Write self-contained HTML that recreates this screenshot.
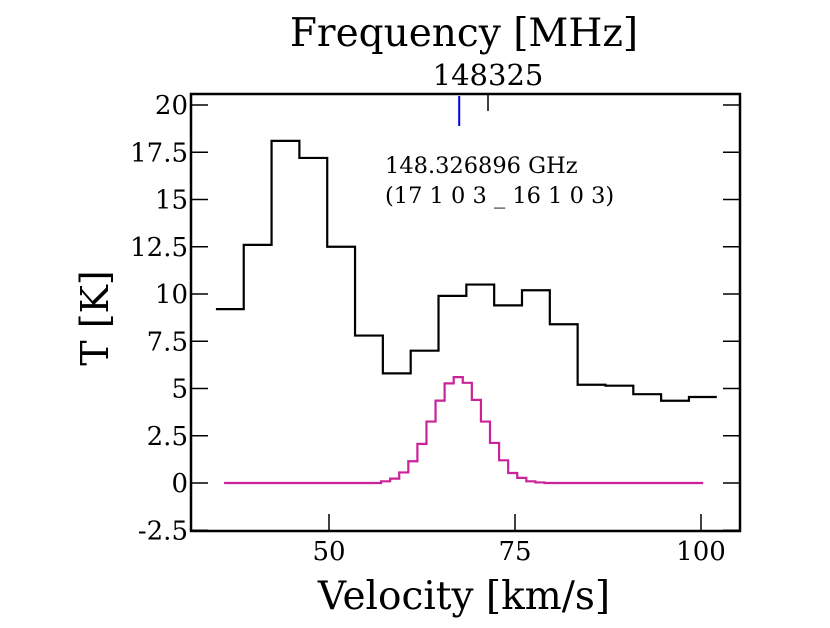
<!DOCTYPE html>
<html><head><meta charset="utf-8"><style>
body{margin:0;background:#fff}
svg text{font-family:"DejaVu Serif","Liberation Serif",serif}
</style></head><body>
<svg width="830" height="623" xmlns="http://www.w3.org/2000/svg">
<g id="g"></g>
</svg>
<script>
const yTicks=[20,17.5,15,12.5,10,7.5,5,2.5,0,-2.5];
const yTickLabels=["20","17.5","15","12.5","10","7.5","5","2.5","0","-2.5"];
const xTicks=[50,75,100];
const xTickLabels=["50","75","100"];
const obsStart=34.8, obsStep=3.74;
const obsValues=[9.2,12.6,18.1,17.2,12.5,7.8,5.8,7.0,9.9,10.5,9.4,10.2,8.4,5.2,5.15,4.7,4.35,4.55];
const modelStart=57.0, modelStep=1.22, modelMin=35.9, modelMax=100.3;
const modelValues=[0.09,0.23,0.56,1.15,2.07,3.25,4.36,5.27,5.6,5.3,4.4,3.25,2.12,1.2,0.53,0.27,0.09,0.03];
const lineVel=67.5;

const L=191,R=740,T=94,B=531;
const X=v=>329+(v-50)*7.44;
const Y=t=>483-t*18.9;
const NS="http://www.w3.org/2000/svg";
const g=document.getElementById('g');
function mk(tag,attrs,txt){const e=document.createElementNS(NS,tag);for(const k in attrs)e.setAttribute(k,attrs[k]);if(txt!==undefined)e.textContent=txt;g.appendChild(e);return e;}

let e=mk('rect',{x:L,y:T,width:R-L,height:B-T,fill:'none',stroke:'#000','stroke-width':2.5});



yTicks.forEach((t,i)=>{
 let a=mk('line',{x1:L,x2:L+17,y1:Y(t),y2:Y(t),stroke:'#000','stroke-width':1.5});
 
 
 let b=mk('line',{x1:R-17,x2:R,y1:Y(t),y2:Y(t),stroke:'#000','stroke-width':1.5});
 
 
 let l=mk('text',{x:188,y:Y(t)+9,'font-size':26,'text-anchor':'end'},yTickLabels[i]);
 
 
});
xTicks.forEach((v,i)=>{
 let a=mk('line',{x1:X(v),x2:X(v),y1:B-17,y2:B,stroke:'#000','stroke-width':1.5});
 
 
 let l=mk('text',{x:X(v),y:560,'font-size':26,'text-anchor':'middle'},xTickLabels[i]);
 
 
});
e=mk('line',{x1:488,x2:488,y1:T,y2:T+17,stroke:'#000','stroke-width':1.5});



function stepPath(start,step,vals,lo,hi){
 let d='';
 if(lo!==undefined) d+='M'+X(lo)+','+Y(0)+'L'+X(start)+','+Y(0);
 vals.forEach((v,i)=>{const x0=X(start+i*step),x1=X(start+(i+1)*step);d+=(d?'L':'M')+x0+','+Y(v)+'L'+x1+','+Y(v);});
 if(hi!==undefined) d+='L'+X(start+vals.length*step)+','+Y(0)+'L'+X(hi)+','+Y(0);
 return d;
}
e=mk('path',{d:stepPath(obsStart,obsStep,obsValues),fill:'none',stroke:'#000','stroke-width':2.2});


e=mk('path',{d:stepPath(modelStart,modelStep,modelValues,modelMin,modelMax),fill:'none',stroke:'#cc2299','stroke-width':2.2});


e=mk('line',{x1:X(lineVel),x2:X(lineVel),y1:T+2,y2:T+32,stroke:'#0000ee','stroke-width':2});



e=mk('text',{x:385,y:173,'font-size':22.5}, '148.326896 GHz');


e=mk('text',{x:385,y:203,'font-size':22.5},'(17 1 0 3 _ 16 1 0 3)');


e=mk('text',{x:488,y:85,'font-size':29,'text-anchor':'middle'},'148325');


e=mk('text',{x:464,y:46,'font-size':39,'text-anchor':'middle'},'Frequency [MHz]');


e=mk('text',{x:464,y:609,'font-size':39,'text-anchor':'middle'},'Velocity [km/s]');


e=mk('text',{x:0,y:0,'font-size':38,'text-anchor':'middle',transform:'translate(108,318) rotate(-90)'},'T [K]');


</script>
</body></html>
